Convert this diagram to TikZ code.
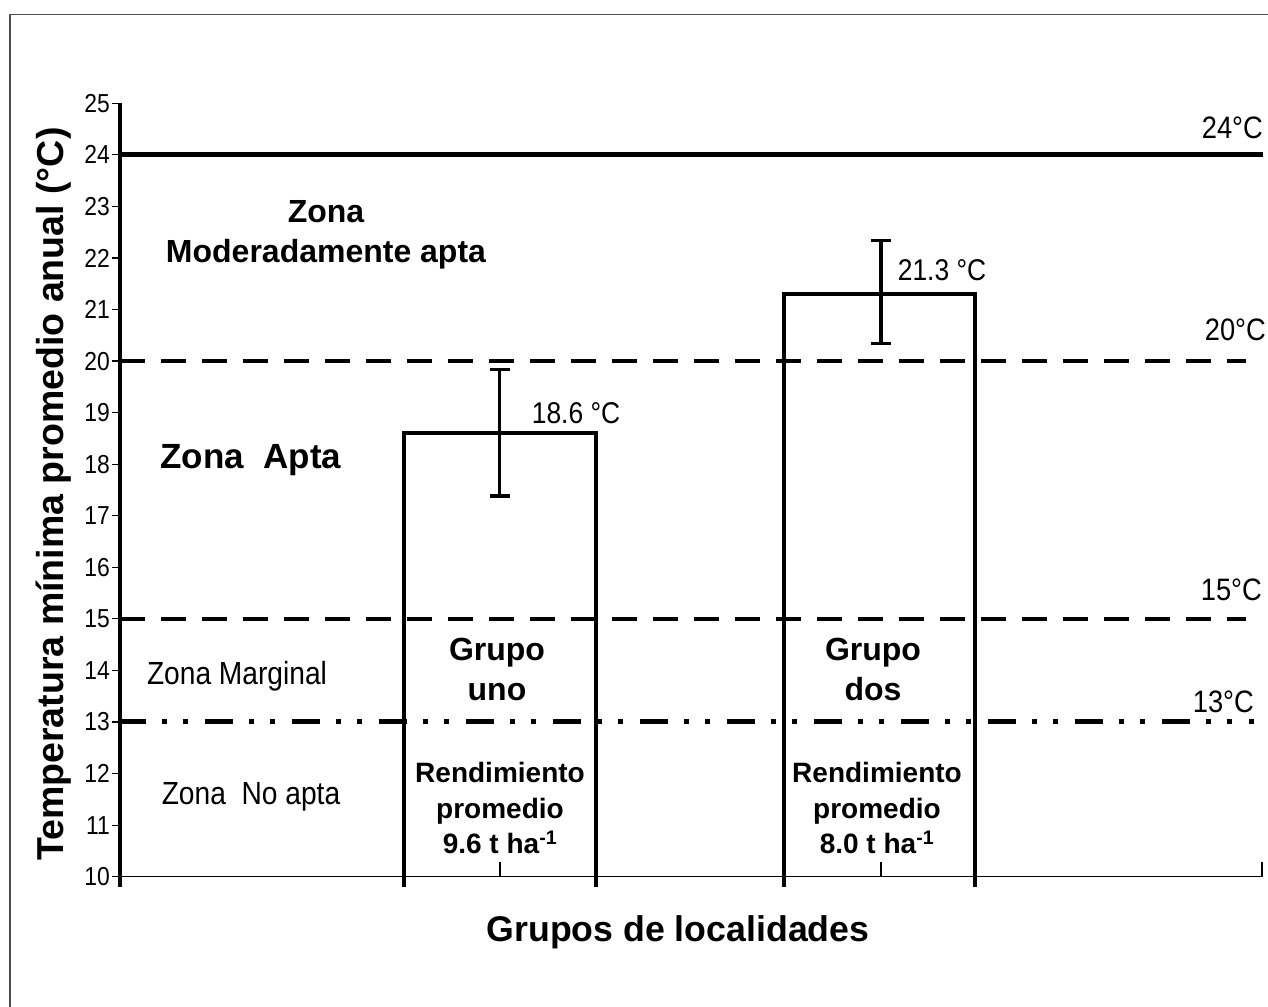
\documentclass[tikz,border=0pt]{standalone}
\usepackage{fontspec}
\setmainfont{Liberation Sans}
\newfontfamily\narrowfont{Liberation Sans}[FakeStretch=0.88]

\tikzset{
  frameline/.style={draw=black!70, line width=1.5pt},
  axisline/.style={line width=4pt},
  tickline/.style={line width=1.2pt},
  barline/.style={line width=4.5pt},
  errbar/.style={line width=3.5pt},
  limsolid/.style={line width=5pt},
  limdashed/.style={line width=4pt, dash pattern=on 25pt off 16pt},
  limdashdot/.style={line width=5pt, dash pattern=on 28pt off 16pt on 5pt off 16pt on 5pt off 17pt, dash phase=2pt},
  ticklabel/.style={anchor=east, inner sep=0pt, font=\narrowfont\fontsize{26}{28}\selectfont},
  limlabel/.style={anchor=east, inner sep=0pt, font=\narrowfont\fontsize{31}{33}\selectfont},
  zonenarrow/.style={inner sep=0pt, font=\narrowfont\fontsize{32}{36}\selectfont},
  zonebold/.style={inner sep=0pt, align=center, font=\bfseries\fontsize{32}{40}\selectfont},
  grouplabel/.style={inner sep=0pt, align=center, font=\bfseries\fontsize{32}{40}\selectfont},
  yieldlabel/.style={inner sep=0pt, align=center, font=\bfseries\fontsize{28}{35.5}\selectfont},
  valuelabel/.style={inner sep=0pt, font=\narrowfont\fontsize{30}{32}\selectfont},
}

\begin{document}
\begin{tikzpicture}[x=1pt, y=51.56pt]

        \useasboundingbox (0,7.473) rectangle (1268,27.003);

        % marco
        \draw[frameline] (10,7.473) -- (10,26.722) -- (1268,26.722);

        % ejes
        \draw[axisline] (120,9.8) -- (120,25);
        \draw[tickline] (118,10) -- (1262,10) -- (1262,10.29);
        \foreach \t in {10,...,25} {
            \draw[tickline] (112,\t) -- (120,\t);
            \node[ticklabel] (t\t) at (110,\t) {\t};
        }
        \draw[tickline] (500,10) -- (500,10.29);
        \draw[tickline] (881,10) -- (881,10.29);

        % limites
        \draw[limsolid] (120,24) -- (1263,24);
        \draw[limdashed] (120,20) -- (1246,20);
        \draw[limdashed] (120,15) -- (1246,15);
        \draw[limdashdot] (120,13) -- (1254,13);

        \node[limlabel] (l24) at (1263,24.52) {24°C};
        \node[limlabel] (l20) at (1266,20.60) {20°C};
        \node[limlabel] (l15) at (1262,15.56) {15°C};
        \node[limlabel] (l13) at (1254,13.39) {13°C};

        % barras
        \draw[barline] (404,9.8) |- (596,18.6) -- (596,9.8);
        \draw[barline] (784,9.8) |- (975,21.3) -- (975,9.8);

        \draw[errbar] (499.5,17.38) -- (499.5,19.84);
        \draw[errbar] (489.5,17.38) -- (509.5,17.38);
        \draw[errbar] (489.5,19.84) -- (509.5,19.84);

        \draw[errbar] (881,20.34) -- (881,22.34);
        \draw[errbar] (871,20.34) -- (891,20.34);
        \draw[errbar] (871,22.34) -- (891,22.34);

        \node[valuelabel] (v1) at (576,18.99) {18.6 °C};
        \node[valuelabel] (v2) at (942,21.77) {21.3 °C};

        % zonas
        \node[zonebold] (zmod) at (326,22.45) {Zona\\Moderadamente apta};
        \node[inner sep=0pt, font=\bfseries\fontsize{35}{40}\selectfont] (zapta) at (251,18.08) {Zona\ \ Apta};
        \node[zonenarrow] (zmarg) at (237,13.89) {Zona Marginal};
        \node[zonenarrow] (znoapta) at (251,11.55) {Zona\ \ No apta};

        % grupos
        \node[grouplabel] (g1) at (497,14.01) {Grupo\\uno};
        \node[grouplabel] (g2) at (873,14.01) {Grupo\\dos};

        \node[yieldlabel] (r1) at (500,11.33) {Rendimiento\\promedio\\9.6 t ha\textsuperscript{-1}};
        \node[yieldlabel] (r2) at (877,11.33) {Rendimiento\\promedio\\8.0 t ha\textsuperscript{-1}};

        % titulos
        \node[inner sep=0pt, font=\bfseries\fontsize{35.7}{40}\selectfont] (xtitle) at (678,8.93) {Grupos de localidades};
        \node[inner sep=0pt, rotate=90, font=\bfseries\fontsize{37.5}{40}\selectfont] (ytitle) at (54,17.42) {Temperatura mínima promedio anual (°C)};

    \end{tikzpicture}
\end{document}
